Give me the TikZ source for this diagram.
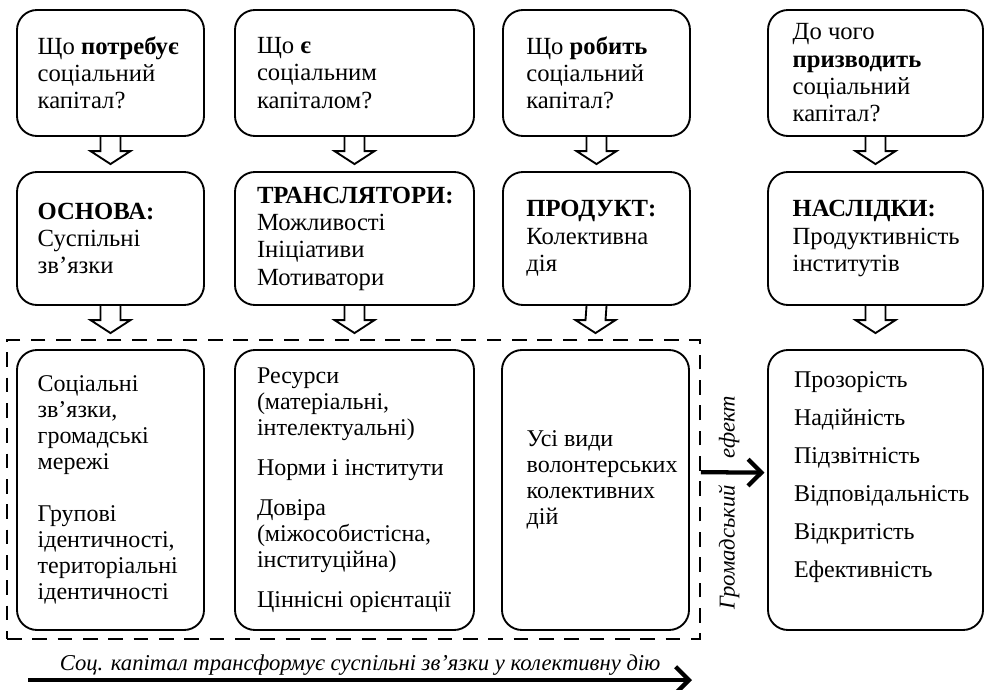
\documentclass[tikz,border=0pt]{standalone}
\usepackage{fontspec}
\setmainfont{Liberation Serif}
\usepackage{tikz}
\usetikzlibrary{positioning,calc,arrows.meta}

\tikzset{
  box/.style={draw, line width=1.4pt, rounded corners=15pt, inner sep=0pt},
  wA/.style={minimum width=140.25pt},
  wB/.style={minimum width=179.25pt},
  wD/.style={minimum width=161.25pt},
  hT/.style={minimum height=94.5pt},
  hM/.style={minimum height=99.75pt},
  hB/.style={minimum height=210pt},
  txt/.style={align=left, inner sep=0pt, font=\fontsize{18.5}{20.5}\selectfont},
  txtS/.style={txt, font=\fontsize{18}{19.5}\selectfont},
  hollow/.style={draw, line width=1.4pt, line join=miter},
  frame/.style={draw, line width=1.4pt, dash pattern=on 11pt off 8pt, inner sep=0pt},
  thickarrow/.style={line width=3.2pt, -{Straight Barb[length=10pt,width=20pt]}},
}

% open block arrow between two boxes, #3 = gap before the target
\newcommand{\hollowarrow}[3]{%
  \draw[hollow] ($(#1.south)+(-10,0)$) -- ($(#2.north)+(-10,-#3-13)$)
    -- ($(#2.north)+(-20,-#3-13)$) -- ($(#2.north)+(0,-#3)$)
    -- ($(#2.north)+(20,-#3-13)$) -- ($(#2.north)+(10,-#3-13)$)
    -- ($(#1.south)+(10,0)$);}

\begin{document}
\begin{tikzpicture}[x=0.75pt,y=-0.75pt]
  \useasboundingbox (0,0) rectangle (984,689);

  % questions
  \node[box,wA,hT] (q1) at (110.5,73) {};
  \node[box,wB,hT] (q2) at (354.5,73) {};
  \node[box,wA,hT] (q3) at (596.5,73) {};
  \node[box,wD,hT] (q4) at (875.5,73) {};
  \node[txt, right=16pt of q1.west] (q1t) {Що \textbf{потребує}\\соціальний\\капітал?};
  \node[txt, right=17pt of q2.west] (q2t) {Що \textbf{є}\\соціальним\\капіталом?};
  \node[txt, right=18pt of q3.west] (q3t) {Що \textbf{робить}\\соціальний\\капітал?};
  \node[txt, right=19pt of q4.west] (q4t) {До чого\\\textbf{призводить}\\соціальний\\капітал?};

  % categories
  \node[box,wA,hM] (m1) at (110.5,238.5) {};
  \node[box,wB,hM] (m2) at (354.5,238.5) {};
  \node[box,wA,hM] (m3) at (596.5,238.5) {};
  \node[box,wD,hM] (m4) at (875.5,238.5) {};
  \node[txt, right=16pt of m1.west] (m1t) {\textbf{ОСНОВА:}\\Суспільні\\зв’язки};
  \node[txt, right=17pt of m2.west] (m2t) {\textbf{ТРАНСЛЯТОРИ:}\\Можливості\\Ініціативи\\Мотиватори};
  \node[txt, right=18pt of m3.west] (m3t) {\textbf{ПРОДУКТ:}\\Колективна\\дія};
  \node[txt, right=19pt of m4.west] (m4t) {\textbf{НАСЛІДКИ:}\\Продуктивність\\інститутів};

  % contents
  \node[frame, minimum width=519.75pt, minimum height=224.25pt] (fr) at (353.5,489.5) {};
  \node[box,wA,hB] (r1) at (110.5,490) {};
  \node[box,wB,hB] (r2) at (354.5,490) {};
  \node[box,wA,hB] (r3) at (595.5,490) {};
  \node[box,wD,hB] (r4) at (875.5,490) {};
  \node[txtS, right=16pt of r1.west] (r1t) {Соціальні\\зв’язки,\\громадські\\мережі\\[19.5pt]Групові\\ідентичності,\\територіальні\\ідентичності};
  \node[txtS, right=17pt of r2.west] (r2t) {Ресурси\\(матеріальні,\\інтелектуальні)\\[10.5pt]Норми і інститути\\[10.5pt]Довіра\\(міжособистісна,\\інституційна)\\[10.5pt]Ціннісні орієнтації};
  \node[txtS, right=19pt of r3.west, yshift=7.5pt] (r3t) {Усі види\\волонтерських\\колективних\\дій};
  \node[txtS, right=20pt of r4.west, yshift=10pt] (r4t) {Прозорість\\[9pt]Надійність\\[9pt]Підзвітність\\[9pt]Відповідальність\\[9pt]Відкритість\\[9pt]Ефективність};

  % block arrows
  \hollowarrow{q1}{m1}{7}
  \hollowarrow{q2}{m2}{7}
  \hollowarrow{q3}{m3}{7}
  \hollowarrow{q4}{m4}{7}
  \hollowarrow{m1}{r1}{16}
  \hollowarrow{m2}{r2}{16}
  \hollowarrow{m3}{r3}{16}
  \hollowarrow{m4}{r4}{16}

  % effect
  \draw[thickarrow, shorten >=2pt] ([yshift=13pt]fr.east) -- ([yshift=13pt]r4.west);
  \node[txt, rotate=90, font=\fontsize{17}{20}\selectfont\itshape] (eff) at (729,503) {Громадський\hspace{20pt}ефект};

  % transformation
  \coordinate (trA) at (28,680);
  \coordinate (trB) at (692,680);
  \draw[thickarrow] (trA) -- (trB)
    node[midway, above=2pt, txt, font=\fontsize{17}{20}\selectfont\itshape] (trt)
    {Соц. капітал трансформує суспільні зв’язки у колективну дію};
\end{tikzpicture}
\end{document}
